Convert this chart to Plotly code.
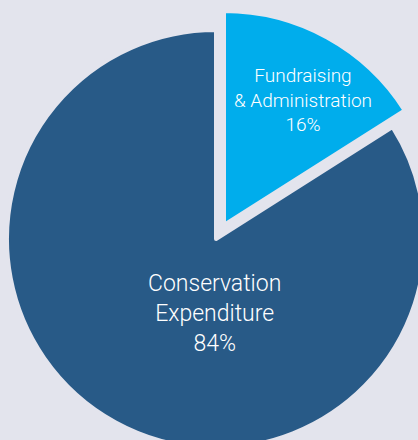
import plotly.graph_objects as go

# ---- data ----
labels = ["Fundraising & Administration", "Conservation Expenditure"]
label_lines = [["Fundraising", "& Administration"], ["Conservation", "Expenditure"]]
values = [16, 84]
colors = ["#00adec", "#285a87"]
bg = "#e3e4ed"

W, H = 440, 460
fig = go.Figure()

def box(cx, cy, r):
    # domain from centre/radius in pixels (top-based y)
    return dict(x=[(cx - r) / W, (cx + r) / W],
                y=[(H - (cy + r)) / H, (H - (cy - r)) / H])

# dark slice trace
fig.add_trace(go.Pie(
    labels=labels, values=values, sort=False, direction="clockwise", rotation=0,
    marker=dict(colors=["rgba(0,0,0,0)", colors[1]], line=dict(color=bg, width=[0, 4])),
    textinfo="none", hoverinfo="label+percent", showlegend=False,
    domain=box(216, 239, 209),
))
# exploded light slice trace
fig.add_trace(go.Pie(
    labels=labels, values=values, sort=False, direction="clockwise", rotation=0,
    marker=dict(colors=[colors[0], "rgba(0,0,0,0)"], line=dict(color=bg, width=[4, 0])),
    textinfo="none", hoverinfo="label+percent", showlegend=False,
    domain=box(224, 225, 214),
))

total = sum(values)
font_family = "Roboto, 'Liberation Sans', Arial, sans-serif"
ann_pos = [(303, 100, 19), (214, 313, 23)]
for lines, v, (px, py, fs) in zip(label_lines, values, ann_pos):
    fig.add_annotation(
        x=px / W, y=(H - py) / H, xref="paper", yref="paper",
        xanchor="center", yanchor="middle", showarrow=False,
        text="<br>".join(lines + [f"{round(100 * v / total)}%"]),
        font=dict(family=font_family, size=fs, color="white", weight=300),
    )

fig.update_layout(
    width=W, height=H, margin=dict(l=0, r=0, t=0, b=0),
    paper_bgcolor=bg, plot_bgcolor=bg,
)

fig.write_html(
    "out.html",
    config={"displayModeBar": False},
    post_script="document.body.style.margin='0';document.body.style.overflow='hidden';document.documentElement.style.overflow='hidden';",
)
